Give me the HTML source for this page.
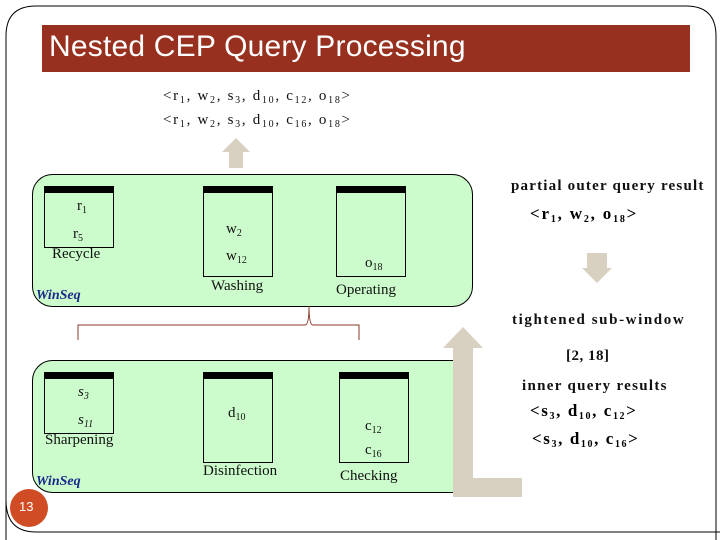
<!DOCTYPE html>
<html><head><meta charset="utf-8"><style>
body{margin:0;width:720px;height:540px;background:#fff;position:relative;overflow:hidden;font-family:"Liberation Serif",serif;}
.a{position:absolute;white-space:nowrap;}
.s{font-size:15px;color:#111;}
sub{font-size:10px;vertical-align:-3px;}
.b{font-weight:bold;}
</style></head><body>
<svg width="720" height="540" style="position:absolute;left:0;top:0">
<path d="M36,6 H686 Q716,6 716,36 V540 M6,540 V36 Q6,6 36,6" fill="none" stroke="#000" stroke-width="1"/>
<path d="M6,500 Q6,532 36,532 H720" fill="none" stroke="#000"/>
<rect x="42" y="25" width="648" height="47" fill="#97301f"/>
<polygon points="236,138 250,152 243,152 243,168 229,168 229,152 222,152" fill="#d8d0c0"/>
<rect x="32.5" y="174.5" width="440" height="132" rx="20" fill="#ccfccc" stroke="#000"/>
<rect x="32.5" y="360.5" width="440" height="132" rx="20" fill="#ccfccc" stroke="#000"/>
<g fill="none" stroke="#000">
<rect x="44.5" y="186.5" width="69" height="61"/><rect x="203.5" y="186.5" width="69" height="90"/><rect x="336.5" y="186.5" width="69" height="90"/>
<rect x="44.5" y="372.5" width="69" height="61"/><rect x="203.5" y="372.5" width="69" height="90"/><rect x="339.5" y="372.5" width="69" height="90"/>
</g>
<g fill="#000">
<rect x="44" y="186" width="70" height="7"/><rect x="203" y="186" width="70" height="7"/><rect x="336" y="186" width="70" height="7"/>
<rect x="44" y="372" width="70" height="7"/><rect x="203" y="372" width="70" height="7"/><rect x="339" y="372" width="70" height="7"/>
</g>
<path d="M78,340 V325 H305 Q309,325 309,306 Q309,325 313,325 H359 V340" fill="none" stroke="#8b3a2a" stroke-width="1"/>
<polygon points="463,327 483,348 473,348 473,478 522,478 522,497 453,497 453,348 443,348" fill="#d8d0c0"/>
<polygon points="587,253 607,253 607,268 612,268 597,283 582,268 587,268" fill="#d8d0c0"/>
<circle cx="29" cy="508" r="19" fill="#d04c24"/>
</svg>
<div class="a" style="left:49px;top:30px;font-family:'Liberation Sans',sans-serif;font-size:30px;color:#fff;letter-spacing:0.2px">Nested CEP Query Processing</div>
<div class="a s" style="left:163px;top:88px;letter-spacing:1.7px">&lt;r<sub>1</sub>, w<sub>2</sub>, s<sub>3</sub>, d<sub>10</sub>, c<sub>12</sub>, o<sub>18</sub>&gt;</div>
<div class="a s" style="left:163px;top:112px;letter-spacing:1.7px">&lt;r<sub>1</sub>, w<sub>2</sub>, s<sub>3</sub>, d<sub>10</sub>, c<sub>16</sub>, o<sub>18</sub>&gt;</div>
<div class="a s" style="left:77px;top:198px">r<sub>1</sub></div>
<div class="a s" style="left:73px;top:226px">r<sub>5</sub></div>
<div class="a s" style="left:52px;top:246px">Recycle</div>
<div class="a s" style="left:226px;top:221px">w<sub>2</sub></div>
<div class="a s" style="left:226px;top:248px">w<sub>12</sub></div>
<div class="a s" style="left:211px;top:278px">Washing</div>
<div class="a s" style="left:365px;top:255px">o<sub>18</sub></div>
<div class="a s" style="left:336px;top:282px">Operating</div>
<div class="a" style="left:36px;top:288px;font-size:14px;font-style:italic;font-weight:bold;color:#1a2a8a">WinSeq</div>
<div class="a s" style="left:78px;top:384px;font-style:italic">s<sub>3</sub></div>
<div class="a s" style="left:78px;top:412px;font-style:italic">s<sub>11</sub></div>
<div class="a s" style="left:45px;top:432px">Sharpening</div>
<div class="a s" style="left:228px;top:405px">d<sub>10</sub></div>
<div class="a s" style="left:203px;top:463px">Disinfection</div>
<div class="a s" style="left:365px;top:418px">c<sub>12</sub></div>
<div class="a s" style="left:365px;top:442px">c<sub>16</sub></div>
<div class="a s" style="left:340px;top:468px">Checking</div>
<div class="a" style="left:36px;top:474px;font-size:14px;font-style:italic;font-weight:bold;color:#1a2a8a">WinSeq</div>
<div class="a" style="left:19px;top:499px;font-family:'Liberation Sans',sans-serif;font-size:13px;color:#fff">13</div>
<div class="a s b" style="left:511px;top:178px;letter-spacing:1.2px">partial outer query result</div>
<div class="a b" style="left:530px;top:204px;font-size:17px;letter-spacing:1.8px">&lt;r<sub>1</sub>, w<sub>2</sub>, o<sub>18</sub>&gt;</div>
<div class="a s b" style="left:512px;top:312px;letter-spacing:1.6px">tightened sub-window</div>
<div class="a s b" style="left:566px;top:348px;letter-spacing:0.5px">[2, 18]</div>
<div class="a s b" style="left:522px;top:378px;letter-spacing:1.3px">inner query results</div>
<div class="a b" style="left:530px;top:401px;font-size:17px;letter-spacing:1.6px">&lt;s<sub>3</sub>, d<sub>10</sub>, c<sub>12</sub>&gt;</div>
<div class="a b" style="left:532px;top:429px;font-size:17px;letter-spacing:1.6px">&lt;s<sub>3</sub>, d<sub>10</sub>, c<sub>16</sub>&gt;</div>
</body></html>
